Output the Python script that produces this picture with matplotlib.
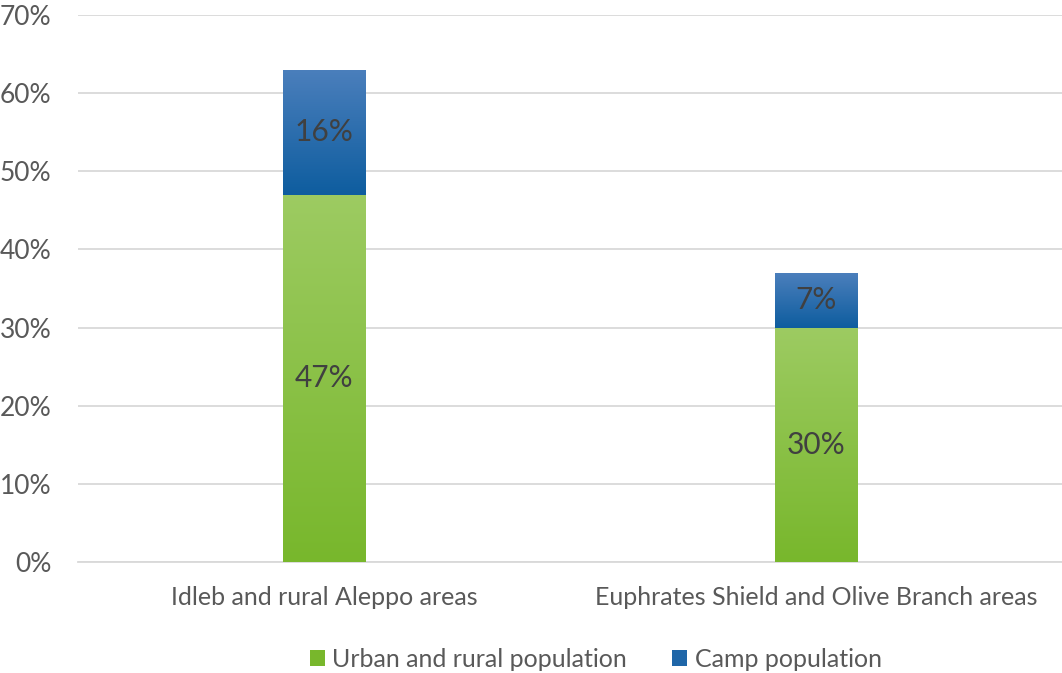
import numpy as np
import matplotlib
matplotlib.use('Agg')
import matplotlib.pyplot as plt
from matplotlib.colors import LinearSegmentedColormap
from matplotlib.patches import Patch

plt.rcParams['font.family'] = ['Lato', 'DejaVu Sans']

categories = ['Idleb and rural Aleppo areas', 'Euphrates Shield and Olive Branch areas']
urban = [47, 30]
camp = [16, 7]
series_names = ['Urban and rural population', 'Camp population']

green_top, green_bot = '#9DCB62', '#78B72C'
blue_top, blue_bot = '#4B7FBC', '#0E5D9F'


def gradient_fill(ax, bar, top, bottom):
    x0, y0 = bar.get_x(), bar.get_y()
    w, h = bar.get_width(), bar.get_height()
    cmap = LinearSegmentedColormap.from_list('g', [bottom, top])
    grad = np.linspace(0, 1, 256).reshape(-1, 1)
    im = ax.imshow(grad, cmap=cmap, aspect='auto', origin='lower',
                   extent=[x0, x0 + w, y0, y0 + h], zorder=bar.get_zorder() + 0.1)
    im.set_clip_path(bar)


fig = plt.figure(figsize=(10.62, 6.73), dpi=100)
ax = fig.add_axes([0.0734, 0.165, 0.9266, 0.8127])

x = np.arange(len(categories))
width = 0.167
b1 = ax.bar(x, urban, width, color=green_bot, zorder=3)
b2 = ax.bar(x, camp, width, bottom=urban, color=blue_bot, zorder=3)

for bar in b1:
    gradient_fill(ax, bar, green_top, green_bot)
for bar in b2:
    gradient_fill(ax, bar, blue_top, blue_bot)

for bar, v in zip(b1, urban):
    ax.text(bar.get_x() + bar.get_width() / 2, bar.get_y() + bar.get_height() / 2,
            f'{v}%', ha='center', va='center', fontsize=21.5, color='#404040', zorder=5)
for bar, v in zip(b2, camp):
    ax.text(bar.get_x() + bar.get_width() / 2, bar.get_y() + bar.get_height() / 2,
            f'{v}%', ha='center', va='center', fontsize=21.5, color='#404040', zorder=5)

ax.set_xlim(-0.5, 1.5)
ax.set_ylim(0, 70)
ax.set_yticks(range(0, 71, 10))
ax.set_yticklabels([f'{t}%' for t in range(0, 71, 10)])
ax.set_xticks(x)
ax.set_xticklabels(categories)
ax.yaxis.grid(True, color='#D9D9D9', linewidth=1.3, zorder=0)
ax.set_axisbelow(True)
for s in ['top', 'right', 'left']:
    ax.spines[s].set_visible(False)
ax.spines['bottom'].set_color('#D9D9D9')
ax.spines['bottom'].set_linewidth(1.3)
ax.tick_params(axis='y', length=0, labelsize=19, colors='#595959', pad=19)
ax.tick_params(axis='x', length=0, labelsize=18, colors='#595959', pad=17)

handles = [Patch(facecolor=green_bot, edgecolor='none'), Patch(facecolor='#1F66A8', edgecolor='none')]
fig.legend(handles, series_names, loc='center', bbox_to_anchor=(0.561, 0.02), ncol=2,
           frameon=False, fontsize=18, labelcolor='#595959', handlelength=0.6,
           handleheight=0.6, handletextpad=0.3, columnspacing=1.8)

fig.savefig('out.png', dpi=100)
